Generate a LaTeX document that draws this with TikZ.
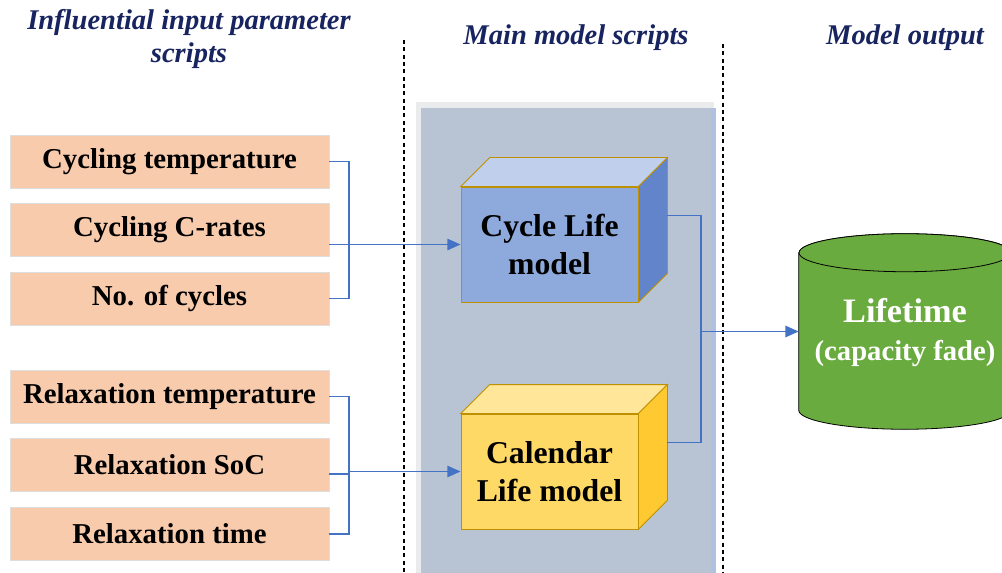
\documentclass[tikz,border=0pt]{standalone}
\usepackage{fontspec}
\setmainfont{Liberation Serif}
\usepackage{xcolor}
\usetikzlibrary{arrows.meta,positioning}

\definecolor{headnavy}{RGB}{24,36,96}
\definecolor{parfill}{RGB}{248,203,173}
\definecolor{parline}{RGB}{222,222,222}
\definecolor{linkblue}{RGB}{68,114,196}
\definecolor{panelfill}{RGB}{184,196,211}
\definecolor{panelshade}{RGB}{234,235,237}
\definecolor{panelrim}{RGB}{176,192,224}
\definecolor{goldline}{RGB}{191,144,0}
\definecolor{cycfront}{RGB}{142,169,219}
\definecolor{cyctop}{RGB}{192,208,236}
\definecolor{cycside}{RGB}{98,132,203}
\definecolor{calfront}{RGB}{255,217,102}
\definecolor{caltop}{RGB}{255,230,153}
\definecolor{calside}{RGB}{255,201,50}
\definecolor{outgreen}{RGB}{106,171,63}

\begin{document}
\begin{tikzpicture}[x=0.75pt,y=0.75pt,yscale=-1,xscale=1,
   head/.style={text=headnavy, align=center, inner sep=0pt, font=\fontsize{21.4}{24.75}\selectfont\bfseries\itshape},
   parbox/.style={draw=parline, fill=parfill, minimum width=239.25pt, minimum height=39.75pt, inner sep=0pt, font=\fontsize{21.6}{26}\selectfont\bfseries},
   model/.style={draw=goldline, line width=0.6pt, minimum width=132.75pt, minimum height=86.25pt, inner sep=0pt, align=center, font=\fontsize{23.8}{28.5}\selectfont\bfseries},
   face/.style={draw=goldline, line width=0.6pt},
   link/.style={draw=linkblue, line width=1.4pt},
   linkarrow/.style={link, -{Triangle[length=10pt,width=8.5pt]}},
   sepline/.style={black, line width=0.8pt, dash pattern=on 3pt off 2.5pt}
   ]
   \useasboundingbox (0,0) rectangle (1002,573);

   %Shape: panel behind the models
   \fill [panelshade] (416,102) rectangle (714,575);
   \fill [panelfill] (421,108) rectangle (716,575);
   \fill [panelrim] (711,108) rectangle (716,575);

   %Straight Lines: column separators
   \draw [sepline] (404,40) -- (404,575);
   \draw [sepline] (723,44) -- (723,575);

   % Text Node
   \node [head] (hin) at (189,38.5) {Influential input parameter\\scripts};
   % Text Node
   \node [head] (hmain) at (576,38) {Main model scripts};
   % Text Node
   \node [head] (hout) at (905,38) {Model output};

   % input parameter boxes
   \node [parbox] (ctemp) at (169.5,161.5) {Cycling temperature};
   \node [parbox, below=11.25pt of ctemp] (crate) {Cycling C-rates};
   \node [parbox, below=11.25pt of crate] (cnum) {No. of cycles};

   \node [parbox] (rtemp) at (169.5,396.5) {Relaxation temperature};
   \node [parbox, below=11.25pt of rtemp] (rsoc) {Relaxation SoC};
   \node [parbox, below=11.25pt of rsoc] (rtime) {Relaxation time};

   %Shape: Cube [Cycle Life model]
   \node [model, fill=cycfront] (cyc) at (549.5,244.5) {Cycle Life\\model};
   \draw [face, fill=cyctop] (cyc.north west) -- ([shift={(29,-29)}]cyc.north west) -- ([shift={(29,-29)}]cyc.north east) -- (cyc.north east) -- cycle;
   \draw [face, fill=cycside] (cyc.north east) -- ([shift={(29,-29)}]cyc.north east) -- ([shift={(29,-29)}]cyc.south east) -- (cyc.south east) -- cycle;
   \coordinate (cycB) at ([shift={(29,-29)}]cyc.east);

   %Shape: Cube [Calendar Life model]
   \node [model, fill=calfront] (cal) at (549.5,471.5) {Calendar\\Life model};
   \draw [face, fill=caltop] (cal.north west) -- ([shift={(29,-29)}]cal.north west) -- ([shift={(29,-29)}]cal.north east) -- (cal.north east) -- cycle;
   \draw [face, fill=calside] (cal.north east) -- ([shift={(29,-29)}]cal.north east) -- ([shift={(29,-29)}]cal.south east) -- (cal.south east) -- cycle;
   \coordinate (calB) at ([shift={(29,-29)}]cal.east);

   %Shape: Can [Lifetime]
   \node [minimum width=159pt, minimum height=117.75pt, inner sep=0pt] (cyl) at (905,331.5) {};
   \draw [fill=outgreen, line width=0.6pt] (cyl.north west) -- (cyl.south west) arc [start angle=180, end angle=0, x radius=106, y radius=19] -- (cyl.north east) arc [start angle=0, end angle=-180, x radius=106, y radius=19] -- cycle;
   \draw [fill=outgreen, line width=0.6pt] (cyl.north) ellipse [x radius=106, y radius=19];
   % Text Node
   \node [text=white, font=\fontsize{25.7}{30}\selectfont\bfseries] (life) at (905,311) {Lifetime};
   % Text Node
   \node [text=white, font=\fontsize{21.5}{26}\selectfont\bfseries] (fade) at (905,354) {(capacity fade)};

   %Connectors: cycling inputs
   \coordinate (ctop) at ([xshift=15pt]ctemp.east);
   \draw [link] (ctemp.east) -- (ctop) |- (cnum.east);
   \draw [linkarrow] (crate.east |- cyc.west) -- (cyc.west);

   %Connectors: relaxation inputs
   \coordinate (rtop) at ([xshift=15pt]rtemp.east);
   \draw [link] (rtemp.east) -- (rtop) |- (rtime.east);
   \draw [link] ([yshift=6.75pt]rsoc.east) -- ++(20,0);
   \draw [linkarrow] (rtop |- cal.west) -- (cal.west);

   %Connectors: models to output
   \coordinate (mjoin) at (701,331.5);
   \draw [link] (cycB) -| (mjoin) |- (calB);
   \draw [linkarrow] (mjoin) -- (cyl.west);

\end{tikzpicture}
\end{document}
